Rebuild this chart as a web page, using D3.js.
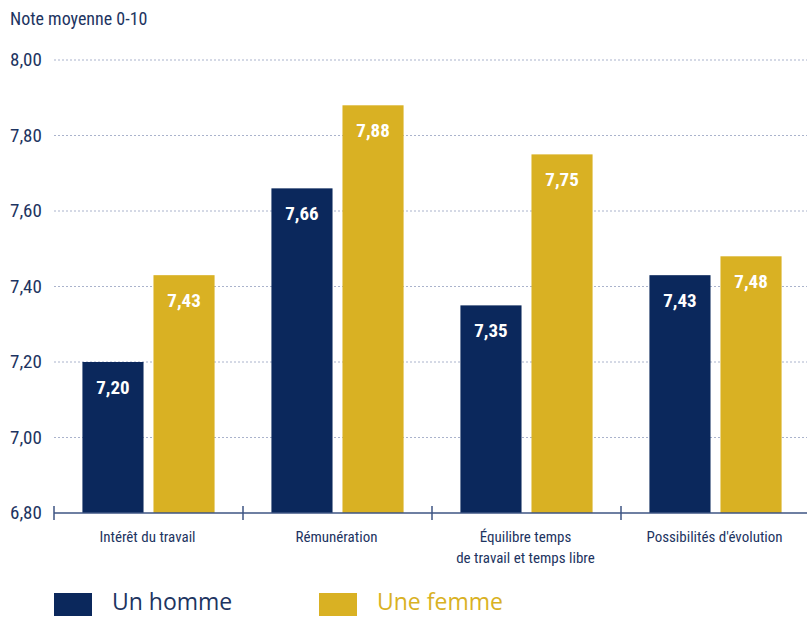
<!DOCTYPE html>
<html><head><meta charset="utf-8">
<script src="https://cdn.jsdelivr.net/npm/d3@7"></script>
<style>
body{margin:0;background:#fff;}
svg text{font-family:"Liberation Sans Narrow","Roboto Condensed","DejaVu Sans Condensed",sans-serif;}
</style></head>
<body><svg id="c" width="807" height="617"></svg>
<script>
const categories = ["Intérêt du travail", "Rémunération", "Équilibre temps\nde travail et temps libre", "Possibilités d'évolution"];
const seriesNames = ["Un homme", "Une femme"];
const homme = [7.20, 7.66, 7.35, 7.43];
const femme = [7.43, 7.88, 7.75, 7.48];
const yTicks = [6.8, 7.0, 7.2, 7.4, 7.6, 7.8, 8.0];
const colors = ["#0b285c", "#d9b123"];
const textColor = "#1d3461";

(function draw() {
const svg = d3.select("#c");
const mLeft = 54, mRight = 810, mTop = 60, mBottom = 513;
const fmt = v => v.toFixed(2).replace(".", ",");

const x = d3.scaleBand().domain(categories).range([mLeft, mRight]).paddingInner(0).paddingOuter(0);
const xs = d3.scaleBand().domain(seriesNames).range([0, x.bandwidth()]).paddingInner(0.14).paddingOuter(0.4);
const y = d3.scaleLinear().domain([6.8, 8.0]).range([mBottom, mTop]);

// gridlines
svg.append("g").selectAll("line").data(yTicks.slice(1)).join("line")
  .attr("x1", mLeft).attr("x2", 807)
  .attr("y1", d => y(d)).attr("y2", d => y(d))
  .attr("stroke", "#aab3cc").attr("stroke-width", 1).attr("stroke-dasharray", "2,2");

// y tick labels
svg.append("g").selectAll("text").data(yTicks).join("text")
  .attr("x", 10).attr("y", d => y(d) + 6)
  .attr("fill", textColor).attr("font-size", 19)
  .text(fmt);

svg.append("text").attr("x", 10).attr("y", 25).attr("fill", textColor)
  .attr("font-size", 18).text("Note moyenne 0-10");

// bars
const data = categories.map((c, i) => ({c, vals: [homme[i], femme[i]]}));
const g = svg.append("g");
data.forEach(d => {
  d.vals.forEach((v, j) => {
    const bx = x(d.c) + xs(seriesNames[j]);
    g.append("rect").attr("x", bx).attr("y", y(v))
      .attr("width", xs.bandwidth()).attr("height", y(6.8) - y(v))
      .attr("fill", colors[j]);
    g.append("text").attr("x", bx + xs.bandwidth() / 2).attr("y", y(v) + 32)
      .attr("text-anchor", "middle").attr("fill", "#fff")
      .attr("font-size", 19).attr("font-weight", "bold").text(fmt(v));
  });
});

// x axis
svg.append("line").attr("x1", mLeft).attr("x2", 807).attr("y1", mBottom).attr("y2", mBottom)
  .attr("stroke", "#3e5583").attr("stroke-width", 1.5);
svg.append("g").selectAll("line").data(categories).join("line")
  .attr("x1", d => x(d)).attr("x2", d => x(d))
  .attr("y1", mBottom - 7).attr("y2", mBottom + 7)
  .attr("stroke", "#3e5583").attr("stroke-width", 1.5);

svg.append("g").selectAll("text").data(categories).join("text")
  .attr("text-anchor", "middle").attr("fill", textColor).attr("font-size", 15)
  .each(function(d) {
    const lines = d.split("\n");
    d3.select(this).selectAll("tspan").data(lines).join("tspan")
      .attr("x", x(d) + x.bandwidth() / 2 - 1)
      .attr("y", (l, k) => 542 + k * 21)
      .text(l => l);
  });

// legend
const legX = [54, 319];
seriesNames.forEach((s, j) => {
  svg.append("rect").attr("x", legX[j]).attr("y", 593).attr("width", 38).attr("height", 23).attr("fill", colors[j]);
  svg.append("text").attr("x", legX[j] + 58).attr("y", 610)
    .style("font-family", "'Open Sans','Noto Sans',sans-serif").style("font-size", "23px")
    .attr("fill", j === 0 ? textColor : colors[1]).text(s);
});
})();
</script></body></html>
